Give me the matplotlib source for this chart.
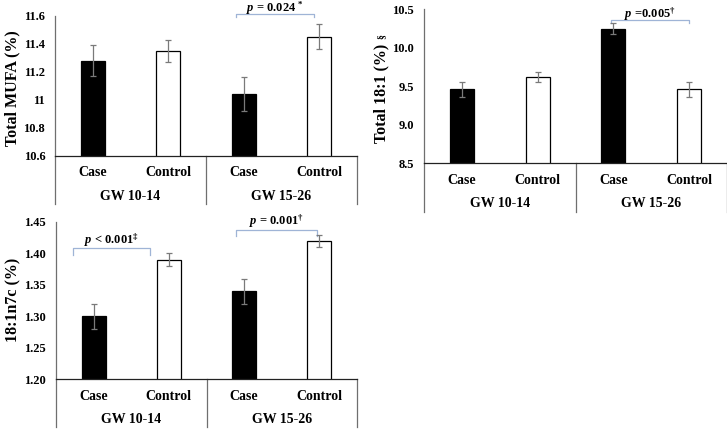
import matplotlib.pyplot as plt

plt.rcParams['font.family'] = ['Liberation Serif', 'DejaVu Serif']
plt.rcParams['font.weight'] = 'bold'
plt.rcParams['mathtext.fontset'] = 'custom'
plt.rcParams['mathtext.rm'] = 'Liberation Serif:bold'
plt.rcParams['mathtext.it'] = 'Liberation Serif:italic:bold'
plt.rcParams['mathtext.bf'] = 'Liberation Serif:bold'

# data
categories = ['Case', 'Control', 'Case', 'Control']
groups = ['GW 10-14', 'GW 15-26']

mufa = [11.28, 11.35, 11.04, 11.45]
mufa_err = [0.11, 0.08, 0.12, 0.09]
mufa_ticks = [10.6, 10.8, 11.0, 11.2, 11.4, 11.6]
mufa_ticklabels = ['10.6', '10.8', '11', '11.2', '11.4', '11.6']

t181 = [9.46, 9.62, 10.25, 9.46]
t181_err = [0.10, 0.07, 0.07, 0.10]
t181_ticks = [8.5, 9.0, 9.5, 10.0, 10.5]
t181_ticklabels = ['8.5', '9.0', '9.5', '10.0', '10.5']

n7c = [1.30, 1.39, 1.34, 1.42]
n7c_err = [0.02, 0.01, 0.02, 0.01]
n7c_ticks = [1.20, 1.25, 1.30, 1.35, 1.40, 1.45]
n7c_ticklabels = ['1.20', '1.25', '1.30', '1.35', '1.40', '1.45']

W, H = 727, 429
fig = plt.figure(figsize=(W / 100, H / 100), dpi=100)

BRACKET = '#9fb4d6'
GRID = '#6f6f6f'


def panel(left, right, top, base, bottom, vals, errs, ticks, ticklabels,
          ylabel, label_y, brackets):
    ax = fig.add_axes([left / W, 1 - base / H, (right - left) / W, (base - top) / H])
    x = range(len(vals))
    ax.bar(x, vals, width=0.32, color=['black', 'white', 'black', 'white'],
           edgecolor='black', linewidth=0.9, zorder=2)
    ax.errorbar(x, vals, yerr=errs, fmt='none', ecolor='#7a7a7a',
                elinewidth=0.9, capsize=2.5, capthick=0.9, zorder=3)
    ax.set_xlim(-0.5, 3.5)
    ax.set_ylim(ticks[0], ticks[-1])
    ax.set_yticks(ticks)
    ax.set_yticklabels(ticklabels, fontsize=9, fontweight='bold')
    ax.tick_params(axis='y', length=0, pad=7)
    ax.set_xticks([])
    for s in ['top', 'right']:
        ax.spines[s].set_visible(False)
    ax.spines['left'].set_color(GRID)
    ax.spines['bottom'].set_color('#222222')
    ax.spines['left'].set_linewidth(0.9)
    ax.spines['bottom'].set_linewidth(0.9)

    # multi-level category axis below the plot
    depth = -(bottom - base) / (base - top)
    for xf in [0, 0.5, 1.0]:
        ax.plot([xf, xf], [0, depth], transform=ax.transAxes, color=GRID,
                lw=0.9, clip_on=False)
    px = 1 / (base - top)
    for i, c in enumerate(categories):
        ax.text(i, -17 * px, c, transform=ax.get_xaxis_transform(),
                ha='center', va='center', fontsize=10, fontweight='bold')
    for j, g in enumerate(groups):
        ax.text(0.5 + 2 * j, -40.5 * px, g, transform=ax.get_xaxis_transform(),
                ha='center', va='center', fontsize=10, fontweight='bold')

    fig.text((left - 43) / W, 1 - label_y / H, ylabel, rotation=90,
             ha='center', va='center', fontsize=11.5, fontweight='bold')

    for x0, x1, yb, yt, ytext, txt in brackets:
        ax.plot([x0, x0, x1, x1], [yt, yb, yb, yt], color=BRACKET, lw=0.9,
                clip_on=False)
        ax.text((x0 + x1) / 2, ytext, txt, ha='center', va='center',
                fontsize=9, fontweight='bold', clip_on=False)
    return ax


panel(55, 357, 15.7, 156, 204, mufa, mufa_err, mufa_ticks, mufa_ticklabels,
      'Total MUFA (%)', 88,
      [(1.9, 2.93, 11.612, 11.59, 11.652, r'$p$ = 0.024 $^{*}$')])

panel(424, 727, 9.3, 163, 212, t181, t181_err, t181_ticks, t181_ticklabels,
      'Total 18:1 (%)', 93,
      [(1.97, 3.0, 10.36, 10.32, 10.44, r'$p$ =0.005$^{†}$')])
fig.text(381 / W, 1 - 37 / H, '§', rotation=90, ha='center', va='center',
         fontsize=7, fontweight='bold')

panel(56, 357, 222, 379, 427, n7c, n7c_err, n7c_ticks, n7c_ticklabels,
      '18:1n7c (%)', 300,
      [(-0.27, 0.75, 1.4086, 1.397, 1.421, r'$p$ < 0.001$^{‡}$'),
       (1.89, 2.97, 1.4373, 1.428, 1.451, r'$p$ = 0.001$^{†}$')])

fig.savefig('out.png', dpi=100)
